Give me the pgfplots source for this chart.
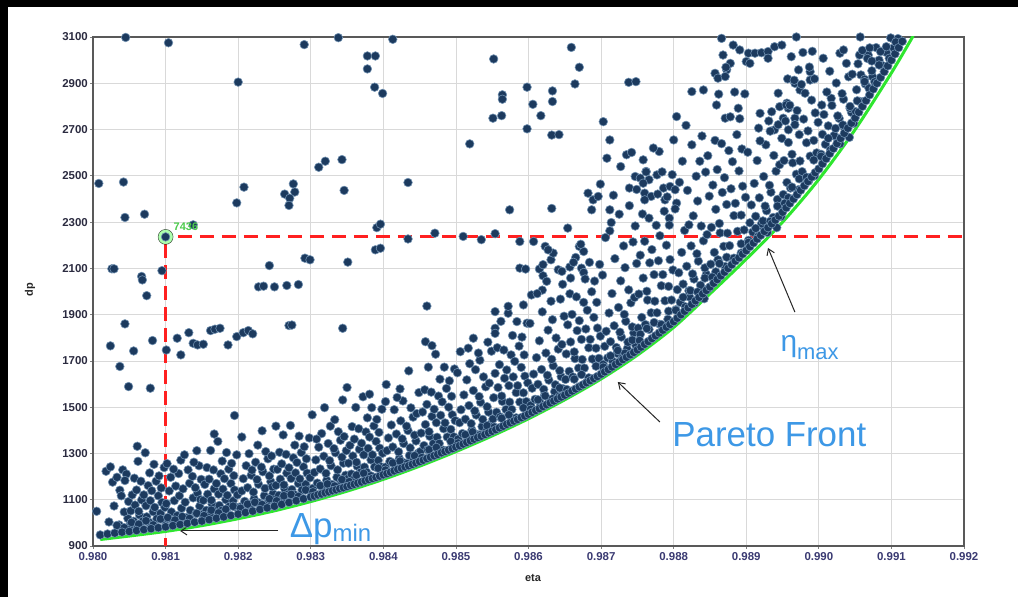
\documentclass[border=0pt]{standalone}
\usepackage{fontspec}
\setmainfont{Liberation Sans}
\usepackage{pgfplots}
\pgfplotsset{compat=1.18}
\usetikzlibrary{arrows.meta}
\definecolor{navy}{HTML}{1C3A5E}
\definecolor{navyedge}{HTML}{7090B0}
\definecolor{pgreen}{HTML}{2EE62E}
\definecolor{dred}{HTML}{FF2020}
\definecolor{annblue}{HTML}{3D98E6}
\definecolor{ticky}{HTML}{2B2B40}
\definecolor{tickx}{HTML}{3A3A72}
\definecolor{lblgreen}{HTML}{4CCB4C}
\begin{document}
\begin{tikzpicture}[x=1bp,y=1bp]
\useasboundingbox (0,0) rectangle (1018,597);
\fill[black] (0,0) rectangle (1018,597);
\fill[white] (7.5,0) rectangle (1018,589.5);
\begin{axis}[
  at={(93bp,51bp)}, anchor=south west,
  scale only axis, width=871bp, height=509bp,
  xmin=0.980, xmax=0.992, ymin=900, ymax=3100,
  xtick={0.980,0.981,0.982,0.983,0.984,0.985,0.986,0.987,0.988,0.989,0.990,0.991,0.992},
  xticklabels={0.980,0.981,0.982,0.983,0.984,0.985,0.986,0.987,0.988,0.989,0.990,0.991,0.992},
  ytick={900,1100,1300,1500,1700,1900,2100,2300,2500,2700,2900,3100},
  yticklabels={900,1100,1300,1500,1700,1900,2100,2300,2500,2700,2900,3100},
  scaled x ticks=false, scaled y ticks=false,
  xticklabel style={font=\bfseries\fontsize{11.5}{13}\selectfont, text=tickx},
  yticklabel style={font=\bfseries\fontsize{11.5}{13}\selectfont, text=ticky, inner sep=2bp},
  tick align=outside, major tick length=3bp,
  xtick pos=bottom, ytick pos=left,
  tick style={color=gray, line width=0.8bp},
  grid=major, major grid style={color=black!15, line width=0.8bp},
  axis line style={color=black!65, line width=1.2bp},
  clip=true,
]
% halo of the selected design
\addplot[only marks, mark=*, mark size=7.5bp, mark options={fill=green!40!white, draw=none, opacity=0.8}] coordinates {(0.981,2236)};
% designs: sparse ones
\addplot[only marks, mark=*, mark size=4.3bp, mark options={fill=navy, draw=navyedge, line width=0.6bp}] coordinates {
(0.981,2236)
(0.98045,3098) (0.98104,3075) (0.98200,2905) (0.98291,3067) (0.98338,3097) (0.98378,3018) (0.98389,3018) (0.98378,2962) (0.98388,2883) (0.98399,2856)
(0.98008,2467) (0.98042,2473) (0.98044,2320) (0.98071,2334) (0.98138,2288) (0.98208,2451) (0.98198,2383)
(0.98264,2421) (0.98276,2465) (0.98278,2430) (0.98271,2403) (0.98270,2372)
(0.98311,2537) (0.98320,2563) (0.98343,2570) (0.98346,2437)
(0.98391,2276) (0.98396,2291) (0.98389,2180) (0.98396,2187)
(0.98292,2144) (0.98299,2137) (0.98351,2127) (0.98243,2112)
(0.98026,2098) (0.98029,2098) (0.98067,2065) (0.98095,2090)
(0.98228,2020) (0.98235,2023) (0.98250,2020) (0.98267,2026) (0.98283,2030)
(0.98068,2050) (0.98074,1982)
(0.98044,1860) (0.98024,1765) (0.98056,1743) (0.98082,1788) (0.98101,1747) (0.98116,1798) (0.98121,1726) (0.98132,1822) (0.98138,1776) (0.98144,1769) (0.98152,1772) (0.98162,1831) (0.98168,1837) (0.98175,1841) (0.98186,1769) (0.98198,1805) (0.98207,1822) (0.98214,1831) (0.98220,1817) (0.98270,1853) (0.98274,1855) (0.98344,1841)
(0.98037,1676) (0.98049,1589) (0.98079,1582) (0.98350,1585) (0.98195,1464)
(0.98413,3090) (0.98552,3005) (0.98519,2638) (0.98564,2850) (0.98564,2831) (0.98551,2749) (0.98563,2760) (0.98598,2883) (0.98606,2809) (0.98617,2760) (0.98598,2703) (0.98633,2867) (0.98633,2821) (0.98632,2676) (0.98642,2678) (0.98659,3055) (0.98670,2969) (0.98664,2897) (0.98738,2904) (0.98748,2907) (0.98703,2734) (0.98712,2655) (0.98708,2576) (0.98727,2540) (0.98735,2591) (0.98742,2601) (0.98758,2569) (0.98780,2605) (0.98800,2655) (0.98804,2756)
(0.98434,2471) (0.98574,2353) (0.98632,2359) (0.98654,2274) (0.98682,2425) (0.98689,2396) (0.98696,2411) (0.98699,2464) (0.98687,2353) (0.98712,2353) (0.98714,2298)
(0.98739,2447) (0.98747,2497) (0.98754,2490) (0.98762,2519) (0.98766,2483) (0.98758,2468) (0.98760,2425) (0.98769,2411) (0.98760,2396) (0.98777,2504) (0.98786,2447) (0.98788,2396) (0.98795,2454) (0.98802,2440) (0.98794,2317) (0.98804,2382)
(0.98471,2252) (0.98510,2238) (0.98535,2224) (0.98554,2250) (0.98434,2227)
(0.98588,2216) (0.98607,2216) (0.98623,2195) (0.98588,2101) (0.98596,2097) (0.98615,2097) (0.98620,2116) (0.98620,2068) (0.98631,2137) (0.98634,2166) (0.98627,2180) (0.98641,2094) (0.98646,2087) (0.98657,2106) (0.98658,2058) (0.98665,2147) (0.98670,2195) (0.98676,2173) (0.98673,2101) (0.98676,2082)
(0.98554,1913) (0.98572,1906) (0.98593,1942) (0.98604,1985) (0.98619,2006) (0.98460,1937) (0.98458,1783) (0.98467,1766) (0.98506,1740) (0.98517,1755) (0.98524,1798) (0.98554,1841) (0.98554,1819)
(0.98866,3094) (0.98882,3065) (0.98891,3044) (0.98903,3030) (0.98912,3030) (0.98921,3032) (0.98930,3037) (0.98939,3058) (0.98949,3065) (0.98868,3022) (0.98878,2986) (0.98873,2958) (0.98857,2943) (0.98861,2922) (0.98871,2929) (0.98900,2994) (0.98905,2986) (0.98930,3008) (0.98969,3100) (0.98962,3015) (0.99006,3008) (0.99029,3030) (0.99034,3044) (0.99056,3022) (0.99068,3022) (0.98972,2958) (0.98988,2950) (0.98988,2914) (0.98967,2900) (0.98974,2871) (0.98825,2864) (0.98841,2871) (0.98944,2857) (0.98956,2814) (0.98958,2792) (0.98859,2806) (0.98871,2749) (0.98889,2792) (0.98919,2770) (0.98935,2777) (0.98946,2799) (0.98955,2806) (0.98951,2749) (0.98967,2749) (0.98917,2706) (0.98939,2699) (0.98958,2699) (0.99017,2835) (0.99004,2806)
};
% designs: the band above the front
\addplot[only marks, mark=*, mark size=4.3bp, mark options={fill=navy, draw=navyedge, line width=0.6bp}] coordinates {
(0.98022,1004) (0.98036,991) (0.98048,1019) (0.98029,1073) (0.98043,1047) (0.98005,1050) (0.98018,1223) (0.98027,1176) (0.98033,1197) (0.98024,1242) (0.98041,1229) (0.98046,1211) (0.98044,1183) (0.98037,1141) (0.98049,1092) (0.98039,1117)
(0.98051,991) (0.98056,1007) (0.98061,991) (0.98064,1034) (0.98069,1008) (0.98074,1026) (0.98077,1003) (0.98083,1048) (0.98088,1018) (0.98093,1041) (0.98097,1014) (0.98052,1052) (0.98058,1077) (0.98063,1050) (0.98067,1099) (0.98073,1074) (0.98079,1096) (0.98085,1067) (0.98090,1117) (0.98095,1088) (0.98099,1067) (0.98054,1121) (0.98060,1142) (0.98070,1121) (0.98076,1161) (0.98081,1139) (0.98087,1180) (0.98094,1151) (0.98057,1193) (0.98066,1180) (0.98078,1216) (0.98091,1203) (0.98098,1239) (0.98062,1266) (0.98084,1253) (0.98072,1303) (0.98061,1331)
(0.98103,1018) (0.98108,1047) (0.98116,1031) (0.98122,1063) (0.98129,1022) (0.98134,1054) (0.98142,1041) (0.98147,1072) (0.98101,1083) (0.98112,1096) (0.98119,1117) (0.98127,1089) (0.98138,1108) (0.98144,1129) (0.98105,1138) (0.98114,1159) (0.98124,1147) (0.98133,1171) (0.98141,1152) (0.98149,1188) (0.98107,1197) (0.98118,1213) (0.98131,1229) (0.98137,1201) (0.98146,1247) (0.98102,1256) (0.98121,1271) (0.98139,1262) (0.98126,1294) (0.98143,1312) (0.98111,1232) (0.98148,1101)
(0.98151,1037) (0.98156,1054) (0.98161,1039) (0.98164,1081) (0.98169,1056) (0.98174,1075) (0.98177,1053) (0.98183,1100) (0.98188,1071) (0.98193,1095) (0.98197,1068) (0.98152,1097) (0.98158,1124) (0.98163,1098) (0.98167,1147) (0.98173,1124) (0.98179,1146) (0.98185,1119) (0.98190,1170) (0.98195,1142) (0.98199,1121) (0.98154,1166) (0.98160,1189) (0.98170,1170) (0.98176,1212) (0.98181,1191) (0.98187,1232) (0.98194,1204) (0.98157,1239) (0.98166,1229) (0.98178,1267) (0.98191,1257) (0.98198,1294) (0.98162,1313) (0.98184,1304) (0.98172,1352) (0.98167,1384)
(0.98203,1069) (0.98209,1093) (0.98216,1077) (0.98222,1104) (0.98229,1086) (0.98236,1117) (0.98242,1098) (0.98248,1126) (0.98205,1138) (0.98213,1152) (0.98221,1133) (0.98228,1167) (0.98237,1149) (0.98245,1178) (0.98207,1191) (0.98218,1206) (0.98226,1187) (0.98234,1221) (0.98243,1203) (0.98249,1232) (0.98211,1247) (0.98224,1262) (0.98232,1241) (0.98241,1277) (0.98215,1299) (0.98238,1308) (0.98246,1289) (0.98227,1336) (0.98205,1371) (0.98233,1398) (0.98219,1228) (0.98247,1156)
(0.98251,1101) (0.98256,1119) (0.98261,1105) (0.98264,1148) (0.98269,1124) (0.98274,1144) (0.98277,1123) (0.98283,1170) (0.98288,1142) (0.98293,1167) (0.98297,1142) (0.98252,1162) (0.98258,1189) (0.98263,1164) (0.98267,1215) (0.98273,1192) (0.98279,1216) (0.98285,1190) (0.98290,1242) (0.98295,1215) (0.98299,1195) (0.98254,1231) (0.98260,1255) (0.98270,1238) (0.98276,1281) (0.98281,1261) (0.98287,1304) (0.98294,1277) (0.98257,1305) (0.98266,1296) (0.98278,1336) (0.98291,1329) (0.98298,1367) (0.98262,1380) (0.98284,1375) (0.98272,1421) (0.98252,1418)
(0.98303,1149) (0.98309,1172) (0.98316,1156) (0.98322,1184) (0.98329,1166) (0.98336,1197) (0.98342,1178) (0.98348,1206) (0.98305,1218) (0.98313,1233) (0.98321,1214) (0.98328,1247) (0.98337,1229) (0.98345,1258) (0.98307,1272) (0.98318,1288) (0.98326,1269) (0.98334,1303) (0.98343,1284) (0.98311,1327) (0.98324,1343) (0.98332,1321) (0.98341,1357) (0.98315,1386) (0.98338,1394) (0.98346,1373) (0.98327,1418) (0.98302,1467) (0.98333,1446) (0.98319,1498) (0.98344,1531) (0.98349,1312) (0.98308,1362)
(0.98351,1191) (0.98356,1211) (0.98361,1196) (0.98364,1245) (0.98369,1219) (0.98374,1241) (0.98377,1219) (0.98383,1272) (0.98388,1242) (0.98393,1270) (0.98397,1242) (0.98352,1258) (0.98358,1289) (0.98363,1262) (0.98367,1318) (0.98373,1294) (0.98379,1322) (0.98385,1294) (0.98390,1352) (0.98395,1323) (0.98399,1301) (0.98354,1335) (0.98360,1362) (0.98370,1344) (0.98376,1393) (0.98381,1371) (0.98387,1419) (0.98394,1391) (0.98357,1416) (0.98366,1407) (0.98378,1454) (0.98391,1447) (0.98398,1491) (0.98362,1499) (0.98384,1498) (0.98372,1545) (0.98403,1524) (0.98381,1556)
(0.98403,1241) (0.98409,1266) (0.98416,1249) (0.98422,1278) (0.98429,1259) (0.98436,1291) (0.98442,1272) (0.98448,1301) (0.98405,1312) (0.98413,1328) (0.98421,1307) (0.98428,1343) (0.98437,1324) (0.98445,1354) (0.98407,1367) (0.98418,1384) (0.98426,1363) (0.98434,1399) (0.98443,1379) (0.98411,1423) (0.98424,1441) (0.98432,1418) (0.98441,1457) (0.98415,1489) (0.98438,1497) (0.98446,1472) (0.98427,1527) (0.98404,1598) (0.98435,1657) (0.98419,1542) (0.98449,1563) (0.98423,1579)
(0.98451,1308) (0.98456,1334) (0.98461,1316) (0.98464,1374) (0.98469,1343) (0.98474,1370) (0.98477,1343) (0.98483,1407) (0.98488,1371) (0.98493,1404) (0.98497,1372) (0.98452,1388) (0.98458,1425) (0.98463,1394) (0.98467,1460) (0.98473,1433) (0.98479,1465) (0.98485,1432) (0.98490,1500) (0.98495,1467) (0.98499,1442) (0.98454,1479) (0.98460,1512) (0.98470,1491) (0.98476,1548) (0.98481,1523) (0.98487,1581) (0.98494,1547) (0.98457,1575) (0.98466,1565) (0.98478,1621) (0.98491,1614) (0.98498,1665) (0.98462,1673) (0.98484,1673) (0.98472,1729)
(0.98503,1362) (0.98509,1386) (0.98516,1371) (0.98522,1401) (0.98529,1382) (0.98536,1416) (0.98542,1396) (0.98548,1427) (0.98505,1433) (0.98513,1448) (0.98521,1429) (0.98528,1466) (0.98537,1447) (0.98545,1479) (0.98507,1489) (0.98518,1507) (0.98526,1484) (0.98534,1521) (0.98543,1502) (0.98511,1553) (0.98524,1572) (0.98532,1546) (0.98541,1588) (0.98515,1618) (0.98538,1631) (0.98546,1604) (0.98527,1662) (0.98502,1649) (0.98533,1703) (0.98519,1688) (0.98549,1742) (0.98531,1734) (0.98544,1781)
(0.98551,1449) (0.98556,1478) (0.98561,1458) (0.98564,1525) (0.98569,1490) (0.98574,1522) (0.98577,1490) (0.98583,1563) (0.98588,1522) (0.98593,1562) (0.98597,1524) (0.98552,1541) (0.98558,1585) (0.98563,1548) (0.98567,1625) (0.98573,1593) (0.98579,1631) (0.98585,1593) (0.98590,1672) (0.98595,1634) (0.98599,1605) (0.98554,1646) (0.98560,1684) (0.98570,1661) (0.98576,1726) (0.98581,1698) (0.98587,1764) (0.98594,1726) (0.98557,1757) (0.98566,1747) (0.98578,1810) (0.98591,1803) (0.98598,1863) (0.98562,1871) (0.98584,1870) (0.98572,1936)
(0.98603,1508) (0.98609,1534) (0.98616,1519) (0.98622,1551) (0.98629,1531) (0.98636,1567) (0.98642,1546) (0.98648,1579) (0.98605,1582) (0.98613,1599) (0.98621,1577) (0.98628,1617) (0.98637,1597) (0.98645,1632) (0.98607,1643) (0.98618,1663) (0.98626,1638) (0.98634,1679) (0.98643,1658) (0.98611,1714) (0.98624,1734) (0.98632,1707) (0.98641,1751) (0.98615,1787) (0.98638,1799) (0.98646,1771) (0.98627,1833) (0.98602,1862) (0.98633,1878) (0.98619,1912) (0.98649,1893) (0.98631,1958) (0.98644,1967) (0.98612,1991) (0.98647,2031) (0.98625,2044)
(0.98651,1620) (0.98656,1655) (0.98661,1631) (0.98664,1710) (0.98669,1669) (0.98674,1706) (0.98677,1669) (0.98683,1757) (0.98688,1708) (0.98693,1755) (0.98697,1711) (0.98652,1730) (0.98658,1782) (0.98663,1739) (0.98667,1831) (0.98673,1793) (0.98679,1838) (0.98685,1793) (0.98690,1888) (0.98695,1842) (0.98699,1807) (0.98654,1856) (0.98660,1901) (0.98670,1874) (0.98676,1953) (0.98681,1919) (0.98687,1999) (0.98694,1953) (0.98657,1990) (0.98666,1977) (0.98678,2054) (0.98691,2045) (0.98698,2117) (0.98662,2126) (0.98684,2126) (0.98672,2204)
(0.98703,1685) (0.98709,1713) (0.98716,1698) (0.98722,1733) (0.98729,1711) (0.98736,1752) (0.98742,1729) (0.98748,1766) (0.98705,1763) (0.98713,1783) (0.98721,1758) (0.98728,1803) (0.98737,1781) (0.98745,1821) (0.98707,1828) (0.98718,1852) (0.98726,1824) (0.98734,1871) (0.98743,1847) (0.98711,1907) (0.98724,1931) (0.98732,1901) (0.98741,1951) (0.98715,1991) (0.98738,2007) (0.98746,1974) (0.98727,2046) (0.98702,2071) (0.98733,2103) (0.98719,2142) (0.98749,2121) (0.98731,2197) (0.98744,2214) (0.98712,2262) (0.98747,2283) (0.98725,2334) (0.98739,2371) (0.98717,2416) (0.98749,2441) (0.98706,2233)
(0.98751,1842) (0.98756,1888) (0.98761,1857) (0.98764,1963) (0.98769,1908) (0.98774,1958) (0.98777,1908) (0.98783,2025) (0.98788,1960) (0.98793,2022) (0.98797,1963) (0.98752,1989) (0.98758,2058) (0.98763,2001) (0.98767,2124) (0.98773,2073) (0.98779,2133) (0.98785,2073) (0.98790,2200) (0.98795,2138) (0.98799,2093) (0.98754,2157) (0.98760,2217) (0.98770,2181) (0.98776,2286) (0.98781,2241) (0.98787,2347) (0.98794,2287) (0.98757,2335) (0.98766,2317) (0.98778,2421) (0.98791,2409) (0.98798,2505) (0.98762,2517) (0.98784,2517) (0.98772,2620) (0.98754,1815) (0.98766,1836) (0.98781,1858) (0.98792,1880)
(0.98803,1921) (0.98809,1953) (0.98816,1934) (0.98822,1976) (0.98829,1951) (0.98836,1997) (0.98842,1969) (0.98848,2013) (0.98805,2008) (0.98813,2032) (0.98821,2003) (0.98828,2054) (0.98837,2027) (0.98845,2074) (0.98807,2081) (0.98818,2109) (0.98826,2076) (0.98834,2131) (0.98843,2102) (0.98811,2169) (0.98824,2197) (0.98832,2163) (0.98841,2219) (0.98815,2264) (0.98838,2283) (0.98846,2246) (0.98827,2327) (0.98802,2357) (0.98833,2391) (0.98819,2437) (0.98849,2412) (0.98831,2498) (0.98844,2516) (0.98812,2563) (0.98847,2587) (0.98825,2634) (0.98839,2672) (0.98817,2718) (0.98808,2472) (0.98836,2563) (0.98821,2288)
(0.98851,2118) (0.98856,2169) (0.98861,2137) (0.98864,2253) (0.98869,2195) (0.98874,2252) (0.98877,2198) (0.98883,2328) (0.98888,2260) (0.98893,2330) (0.98897,2266) (0.98852,2277) (0.98858,2355) (0.98863,2294) (0.98867,2428) (0.98873,2376) (0.98879,2444) (0.98885,2381) (0.98890,2521) (0.98895,2455) (0.98899,2407) (0.98854,2460) (0.98860,2527) (0.98870,2492) (0.98876,2609) (0.98881,2561) (0.98887,2678) (0.98894,2616) (0.98857,2653) (0.98866,2639) (0.98878,2755) (0.98891,2747) (0.98898,2854) (0.98862,2853) (0.98884,2862) (0.98872,2969) (0.98858,2085) (0.98871,2108) (0.98884,2142) (0.98893,2166)
(0.98903,2221) (0.98909,2257) (0.98916,2237) (0.98922,2283) (0.98929,2255) (0.98936,2305) (0.98942,2276) (0.98948,2324) (0.98905,2297) (0.98913,2325) (0.98921,2293) (0.98928,2349) (0.98937,2320) (0.98945,2371) (0.98907,2374) (0.98918,2405) (0.98926,2369) (0.98934,2429) (0.98943,2398) (0.98911,2467) (0.98924,2497) (0.98932,2459) (0.98941,2520) (0.98915,2566) (0.98938,2588) (0.98946,2548) (0.98927,2634) (0.98902,2602) (0.98933,2693) (0.98919,2651) (0.98949,2662) (0.98931,2737) (0.98944,2721)
(0.98951,2419) (0.98956,2471) (0.98961,2447) (0.98964,2556) (0.98969,2507) (0.98974,2564) (0.98977,2518) (0.98983,2643) (0.98988,2585) (0.98993,2653) (0.98997,2599) (0.98952,2566) (0.98958,2644) (0.98963,2593) (0.98967,2721) (0.98973,2678) (0.98979,2745) (0.98985,2694) (0.98990,2827) (0.98995,2772) (0.98999,2731) (0.98954,2737) (0.98960,2805) (0.98970,2782) (0.98976,2895) (0.98981,2857) (0.98987,2970) (0.98994,2919) (0.98957,2919) (0.98966,2913) (0.98978,3033) (0.98991,3038) (0.98958,2405) (0.98972,2440) (0.98986,2478) (0.98994,2500)
(0.99003,2593) (0.99009,2636) (0.99016,2612) (0.99022,2671) (0.99029,2638) (0.99036,2702) (0.99042,2666) (0.99048,2727) (0.99005,2679) (0.99013,2716) (0.99021,2674) (0.99028,2748) (0.99037,2709) (0.99045,2774) (0.99007,2765) (0.99018,2804) (0.99026,2759) (0.99034,2831) (0.99043,2792) (0.99011,2862) (0.99024,2901) (0.99032,2855) (0.99041,2928) (0.99015,2952) (0.99038,2986) (0.99046,2939)
(0.99051,2777) (0.99056,2822) (0.99061,2820) (0.99064,2897) (0.99069,2879) (0.99074,2928) (0.99077,2906) (0.99083,3000) (0.99088,2976) (0.99093,3033) (0.99097,3008) (0.99052,2872) (0.99058,2936) (0.99063,2917) (0.99067,3007) (0.99073,2996) (0.99079,3054) (0.99085,3037) (0.99099,3096) (0.99054,2984) (0.99060,3042) (0.99070,3053) (0.99057,3100)
(0.99103,3053) (0.99109,3093) (0.99106,3078)
};
% designs: second row just above the front
\addplot[only marks, mark=*, mark size=4.3bp, mark options={fill=navy, draw=navyedge, line width=0.6bp}] coordinates {
(0.98033,989) (0.98043,979) (0.98053,1002) (0.98063,994) (0.98073,1009) (0.98083,991) (0.98093,1017) (0.98103,1023) (0.98113,1012) (0.98123,1027) (0.98133,1019) (0.98143,1041) (0.98153,1031) (0.98163,1055) (0.98173,1043) (0.98183,1059) (0.98193,1072) (0.98203,1063) (0.98213,1081) (0.98223,1089) (0.98233,1079) (0.98243,1104) (0.98253,1095) (0.98263,1117) (0.98273,1123) (0.98283,1114) (0.98293,1142) (0.98303,1134) (0.98313,1161) (0.98323,1168) (0.98333,1159) (0.98343,1187) (0.98353,1178) (0.98363,1206) (0.98373,1214) (0.98383,1203) (0.98393,1236) (0.98403,1228) (0.98413,1259) (0.98423,1267) (0.98433,1256) (0.98443,1290) (0.98453,1282) (0.98463,1316) (0.98473,1326) (0.98483,1314) (0.98493,1352) (0.98503,1345) (0.98513,1381) (0.98523,1393) (0.98533,1380) (0.98543,1420) (0.98553,1414) (0.98563,1452) (0.98573,1467) (0.98583,1454) (0.98593,1497) (0.98603,1491) (0.98613,1532) (0.98623,1549) (0.98633,1536) (0.98643,1583) (0.98653,1576) (0.98663,1621) (0.98673,1641) (0.98683,1627) (0.98693,1677) (0.98703,1673) (0.98713,1722) (0.98723,1745) (0.98733,1733) (0.98743,1790) (0.98753,1788) (0.98763,1840) (0.98773,1866) (0.98783,1857) (0.98793,1915) (0.98803,1919) (0.98813,1975) (0.98823,2004) (0.98833,1998) (0.98843,2058) (0.98853,2062) (0.98863,2121) (0.98873,2148) (0.98883,2144) (0.98893,2206) (0.98903,2212) (0.98913,2273) (0.98923,2305) (0.98933,2303) (0.98943,2369) (0.98953,2381) (0.98963,2451) (0.98973,2487) (0.98983,2494) (0.98993,2568) (0.99003,2584) (0.99013,2662) (0.99023,2705) (0.99033,2720) (0.99043,2800) (0.99053,2824) (0.99063,2907) (0.99073,2954) (0.99083,2979) (0.99093,3058)
};
% designs: row touching the front
\addplot[only marks, mark=*, mark size=4.3bp, mark options={fill=navy, draw=navyedge, line width=0.6bp}] coordinates {
(0.98010,948) (0.98020,952) (0.98030,956) (0.98040,960) (0.98050,963) (0.98060,967) (0.98070,971) (0.98080,975) (0.98090,979) (0.98100,983) (0.98110,988) (0.98120,993) (0.98130,998) (0.98140,1003) (0.98150,1008) (0.98160,1014) (0.98170,1020) (0.98180,1026) (0.98190,1032) (0.98200,1038) (0.98210,1045) (0.98220,1051) (0.98230,1058) (0.98240,1065) (0.98250,1072) (0.98260,1080) (0.98270,1088) (0.98280,1096) (0.98290,1104) (0.98300,1112) (0.98305,1116) (0.98310,1121) (0.98315,1125) (0.98320,1130) (0.98325,1134) (0.98330,1139) (0.98335,1143) (0.98340,1148) (0.98345,1152) (0.98350,1157) (0.98355,1162) (0.98360,1167) (0.98365,1172) (0.98370,1177) (0.98375,1182) (0.98380,1187) (0.98385,1192) (0.98390,1197) (0.98395,1202) (0.98400,1208) (0.98405,1213) (0.98410,1219) (0.98415,1225) (0.98420,1231) (0.98425,1236) (0.98430,1242) (0.98435,1247) (0.98440,1253) (0.98445,1259) (0.98450,1265) (0.98455,1271) (0.98460,1278) (0.98465,1284) (0.98470,1290) (0.98475,1296) (0.98480,1303) (0.98485,1309) (0.98490,1315) (0.98495,1321) (0.98500,1328) (0.98505,1334) (0.98510,1341) (0.98515,1348) (0.98520,1355) (0.98525,1362) (0.98530,1369) (0.98535,1375) (0.98540,1382) (0.98545,1389) (0.98550,1396) (0.98555,1403) (0.98560,1411) (0.98565,1418) (0.98570,1426) (0.98575,1433) (0.98580,1440) (0.98585,1447) (0.98590,1455) (0.98595,1462) (0.98600,1470) (0.98605,1478) (0.98610,1486) (0.98615,1494) (0.98620,1503) (0.98625,1511) (0.98630,1519) (0.98635,1527) (0.98640,1536) (0.98645,1544) (0.98650,1552) (0.98655,1561) (0.98660,1570) (0.98665,1579) (0.98670,1588) (0.98675,1597) (0.98680,1606) (0.98685,1615) (0.98690,1624) (0.98695,1633) (0.98700,1643) (0.98705,1653) (0.98710,1663) (0.98715,1674) (0.98720,1685) (0.98725,1695) (0.98730,1706) (0.98735,1716) (0.98740,1727) (0.98745,1737) (0.98750,1748) (0.98755,1760) (0.98760,1772) (0.98765,1784) (0.98770,1797) (0.98775,1809) (0.98780,1821) (0.98785,1833) (0.98790,1846) (0.98795,1858) (0.98800,1870) (0.98805,1885) (0.98810,1900) (0.98815,1915) (0.98820,1930) (0.98825,1945) (0.98830,1960) (0.98835,1975) (0.98840,1990) (0.98845,2005) (0.98850,2020) (0.98855,2036) (0.98860,2052) (0.98865,2068) (0.98870,2084) (0.98875,2100) (0.98880,2116) (0.98885,2132) (0.98890,2146) (0.98895,2162) (0.98900,2177) (0.98905,2194) (0.98910,2210) (0.98915,2227) (0.98920,2243) (0.98925,2260) (0.98930,2276) (0.98935,2293) (0.98940,2309) (0.98945,2326) (0.98950,2343) (0.98955,2362) (0.98960,2381) (0.98965,2400) (0.98970,2419) (0.98975,2438) (0.98980,2457) (0.98985,2476) (0.98990,2495) (0.98995,2514) (0.99000,2530) (0.99005,2552) (0.99010,2574) (0.99015,2596) (0.99020,2618) (0.99025,2640) (0.99030,2662) (0.99035,2684) (0.99040,2706) (0.99045,2728) (0.99050,2750) (0.99055,2775) (0.99060,2800) (0.99065,2825) (0.99070,2850) (0.99075,2875) (0.99080,2900) (0.99085,2925) (0.99090,2950) (0.99095,2975) (0.99100,3000) (0.99105,3027) (0.99110,3054) (0.99115,3081) (0.99120,3105)
};
% Pareto front
\addplot[pgreen, line width=3bp, smooth] coordinates {
(0.9801,928) (0.9805,943) (0.9810,963) (0.9815,988) (0.9820,1018) (0.9825,1052) (0.9830,1092) (0.9835,1137) (0.9840,1188) (0.9845,1245) (0.9850,1308) (0.9855,1376) (0.9860,1450) (0.9865,1532) (0.9870,1622) (0.9875,1725) (0.9880,1845) (0.9885,1990) (0.9890,2140) (0.9895,2300) (0.9900,2485) (0.9905,2700) (0.9910,2945) (0.9913,3105)
};
% selection lines
\addplot[dred, line width=3.2bp, dash pattern=on 14bp off 8bp] coordinates {(0.98117,2236) (0.992,2236)};
\addplot[dred, line width=3.2bp, dash pattern=on 14bp off 7bp] coordinates {(0.981,2205) (0.981,900)};
\coordinate (lbl) at (axis cs:0.98128,2281);
% annotations
\draw[-{Straight Barb[length=6bp,width=8bp]}, line width=1bp, black!85] (axis cs:0.98967,1911) -- (axis cs:0.98930,2188);
\draw[-{Straight Barb[length=6bp,width=8bp]}, line width=1bp, black!85] (axis cs:0.98781,1436) -- (axis cs:0.98723,1609);
\draw[-{Straight Barb[length=6bp,width=8bp]}, line width=1bp, black!85] (axis cs:0.98255,965) -- (axis cs:0.98120,965);
\node[anchor=base west, inner sep=0, text=annblue, font=\fontsize{30}{34}\selectfont] at (axis cs:0.98947,1740) {η\raisebox{-8bp}{\fontsize{22}{24}\selectfont max}};
\node[anchor=base west, inner sep=0, text=annblue, font=\fontsize{35}{40}\selectfont] at (axis cs:0.98798,1328) {Pareto Front};
\node[anchor=base west, inner sep=0, text=annblue, font=\fontsize{35}{40}\selectfont] at (axis cs:0.98271,935) {Δp\raisebox{-4bp}{\fontsize{24}{26}\selectfont min}};
\end{axis}
\node[text=lblgreen, font=\bfseries\fontsize{11}{12}\selectfont] at (lbl) {7436};
\node[font=\bfseries\fontsize{11}{12}\selectfont, text=black!85] at (533,19) {eta};
\node[font=\bfseries\fontsize{11}{12}\selectfont, text=black!85, rotate=90] at (30,307) {dp};
\end{tikzpicture}
\end{document}
